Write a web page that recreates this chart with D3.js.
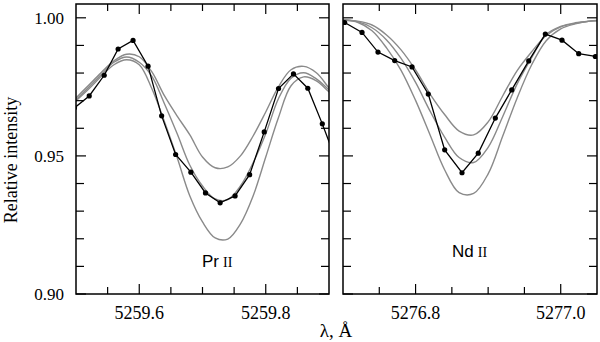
<!DOCTYPE html>
<html>
<head>
<meta charset="utf-8">
<script src="https://cdn.jsdelivr.net/npm/d3@7"></script>
<style>
  body { margin: 0; background: #fff; }
</style>
</head>
<body>
<div id="chart"></div>
<script>
/* DATA: Pr II panel */
const prObsLambda = [5259.4976, 5259.5209, 5259.5446, 5259.5666, 5259.5902, 5259.6139, 5259.6354,
  5259.6575, 5259.6816, 5259.7047, 5259.7279, 5259.7515, 5259.7745, 5259.7976, 5259.8202,
  5259.8438, 5259.8665, 5259.8894, 5259.9126];
const prObs = [0.9674, 0.9717, 0.9792, 0.9887, 0.9918, 0.9825, 0.9645, 0.9505, 0.9441, 0.9366,
  0.9330, 0.9355, 0.9432, 0.9587, 0.9744, 0.9797, 0.9745, 0.9616, 0.9475];
const prSynLambda = [5259.48, 5259.50, 5259.52, 5259.54, 5259.56, 5259.58, 5259.60, 5259.62,
  5259.64, 5259.66, 5259.68, 5259.70, 5259.72, 5259.74, 5259.76, 5259.78, 5259.80, 5259.82,
  5259.84, 5259.86, 5259.88, 5259.90, 5259.92];
const prSynLow = [0.9664, 0.9710, 0.9756, 0.9802, 0.9844, 0.9868, 0.9859, 0.9804, 0.9717, 0.9644,
  0.9576, 0.9496, 0.9457, 0.9460, 0.9500, 0.9572, 0.9659, 0.9750, 0.9812, 0.9824, 0.9801, 0.9746, 0.9692];
const prSynMid = [0.9657, 0.9703, 0.9749, 0.9795, 0.9839, 0.9858, 0.9839, 0.9788, 0.9688, 0.9580,
  0.9466, 0.9391, 0.9344, 0.9342, 0.9391, 0.9475, 0.9580, 0.9707, 0.9781, 0.9801, 0.9779, 0.9739, 0.9699];
const prSynHigh = [0.9657, 0.9699, 0.9742, 0.9788, 0.9830, 0.9848, 0.9830, 0.9743, 0.9623, 0.9493,
  0.9355, 0.9261, 0.9203, 0.9199, 0.9254, 0.9355, 0.9496, 0.9638, 0.9754, 0.9786, 0.9772, 0.9732, 0.9692];
const prTicks = [5259.55, 5259.6, 5259.65, 5259.7, 5259.75, 5259.8, 5259.85];
const prTickLabels = [5259.6, 5259.8];

/* DATA: Nd II panel */
const ndObsLambda = [5276.6790, 5276.7023, 5276.7262, 5276.7482, 5276.7712, 5276.7951, 5276.8175,
  5276.8401, 5276.8640, 5276.8864, 5276.9099, 5276.9325, 5276.9559, 5276.9788, 5277.0018,
  5277.0248, 5277.0477];
const ndObs = [1.0018, 0.9983, 0.9947, 0.9876, 0.9845, 0.9822, 0.9724, 0.9522, 0.9439, 0.9510,
  0.9637, 0.9739, 0.9844, 0.9941, 0.9919, 0.9870, 0.9860];
const ndSynLambda = [5276.68, 5276.70, 5276.72, 5276.74, 5276.76, 5276.78, 5276.80, 5276.82,
  5276.84, 5276.86, 5276.88, 5276.90, 5276.92, 5276.94, 5276.96, 5276.98, 5277.00, 5277.02,
  5277.04, 5277.06];
const ndSynLow = [0.9995, 0.9992, 0.9988, 0.9974, 0.9938, 0.9884, 0.9811, 0.9724, 0.9650, 0.9590,
  0.9576, 0.9623, 0.9717, 0.9809, 0.9877, 0.9936, 0.9967, 0.9980, 0.9988, 0.9991];
const ndSynMid = [0.9995, 0.9992, 0.9986, 0.9964, 0.9920, 0.9853, 0.9766, 0.9662, 0.9568, 0.9494,
  0.9476, 0.9531, 0.9642, 0.9761, 0.9856, 0.9940, 0.9969, 0.9982, 0.9988, 0.9991];
const ndSynHigh = [0.9995, 0.9992, 0.9984, 0.9953, 0.9891, 0.9810, 0.9701, 0.9576, 0.9450, 0.9367,
  0.9364, 0.9435, 0.9571, 0.9710, 0.9830, 0.9917, 0.9960, 0.9978, 0.9988, 0.9991];
const ndTicks = [5276.75, 5276.8, 5276.85, 5276.9, 5276.95, 5277.0];
const ndTickLabels = [5276.8, 5277.0];

/* shared y ticks */
const yMajor = [0.90, 0.95, 1.00];
const yMinor = [0.91, 0.92, 0.93, 0.94, 0.96, 0.97, 0.98, 0.99];

/* LAYOUT */
const width = 600, height = 342;
const plotTop = 4, plotBottom = 294;

const svg = d3.select("#chart")
  .append("svg")
    .attr("width", width)
    .attr("height", height)
    .style("font-family", "'Liberation Serif', 'Times New Roman', serif");

const y = d3.scaleLinear().domain([0.90, 1.005]).range([plotBottom, plotTop]);

function drawPanel(p, id) {
  const x = d3.scaleLinear().domain(p.domain).range([p.left, p.right]);
  const g = svg.append("g");

  g.append("clipPath").attr("id", id)
    .append("rect")
      .attr("x", p.left).attr("y", plotTop)
      .attr("width", p.right - p.left).attr("height", plotBottom - plotTop);

  const plot = g.append("g").attr("clip-path", `url(#${id})`);

  // synthetic spectra (grey)
  const synLine = d3.line()
    .x(d => x(d[0])).y(d => y(d[1]))
    .curve(d3.curveCatmullRom.alpha(0.5));
  p.syn.forEach(vals => {
    plot.append("path")
      .datum(p.synLambda.map((l, i) => [l, vals[i]]))
      .attr("fill", "none")
      .attr("stroke", "#8a8a8a")
      .attr("stroke-width", 1.4)
      .attr("d", synLine);
  });

  // observed spectrum
  const obs = p.obsLambda.map((l, i) => [l, p.obs[i]]);
  plot.append("path")
    .datum(obs)
    .attr("fill", "none")
    .attr("stroke", "#000")
    .attr("stroke-width", 1.3)
    .attr("d", d3.line().x(d => x(d[0])).y(d => y(d[1])));
  plot.selectAll("circle")
    .data(obs)
    .join("circle")
      .attr("cx", d => x(d[0]))
      .attr("cy", d => y(d[1]))
      .attr("r", 2.6)
      .attr("fill", "#000");

  // ticks, pointing inward on every side
  const tk = g.append("g").attr("stroke", "#000").attr("stroke-width", 1.2);
  p.ticks.forEach(t => {
    const len = p.tickLabels.includes(t) ? 10 : 7;
    tk.append("line").attr("x1", x(t)).attr("x2", x(t)).attr("y1", plotBottom).attr("y2", plotBottom - len);
    tk.append("line").attr("x1", x(t)).attr("x2", x(t)).attr("y1", plotTop).attr("y2", plotTop + len);
  });
  yMajor.concat(yMinor).forEach(v => {
    const len = yMajor.includes(v) ? 10 : 8;
    tk.append("line").attr("x1", p.left).attr("x2", p.left + len).attr("y1", y(v)).attr("y2", y(v));
    tk.append("line").attr("x1", p.right).attr("x2", p.right - len).attr("y1", y(v)).attr("y2", y(v));
  });

  // frame
  g.append("rect")
    .attr("x", p.left).attr("y", plotTop)
    .attr("width", p.right - p.left).attr("height", plotBottom - plotTop)
    .attr("fill", "none").attr("stroke", "#000").attr("stroke-width", 1.5);

  // x tick labels
  g.selectAll("text.xl")
    .data(p.tickLabels)
    .join("text")
      .attr("class", "xl")
      .attr("x", d => x(d))
      .attr("y", 319)
      .attr("text-anchor", "middle")
      .style("font-size", "18px")
      .text(d => d.toFixed(1));

  // element label
  const lab = g.append("text")
    .attr("x", p.labelX).attr("y", p.labelY)
    .style("font-size", "17px");
  lab.append("tspan").style("font-family", "'Liberation Sans', Arial, sans-serif").text(p.element);
  lab.append("tspan").attr("dx", 4).style("font-size", "14px").text("II");

  return x;
}

drawPanel({
  left: 76, right: 329, domain: [5259.5, 5259.9],
  obsLambda: prObsLambda, obs: prObs,
  synLambda: prSynLambda, syn: [prSynLow, prSynMid, prSynHigh],
  ticks: prTicks, tickLabels: prTickLabels,
  element: "Pr", labelX: 202, labelY: 267
}, "clipPr");

drawPanel({
  left: 343, right: 597, domain: [5276.7, 5277.05],
  obsLambda: ndObsLambda, obs: ndObs,
  synLambda: ndSynLambda, syn: [ndSynLow, ndSynMid, ndSynHigh],
  ticks: ndTicks, tickLabels: ndTickLabels,
  element: "Nd", labelX: 452, labelY: 257
}, "clipNd");

// y tick labels (left panel only)
svg.selectAll("text.yl")
  .data(yMajor)
  .join("text")
    .attr("class", "yl")
    .attr("x", 64)
    .attr("y", d => y(d))
    .attr("dy", "0.35em")
    .attr("text-anchor", "end")
    .style("font-size", "17px")
    .text(d => d.toFixed(2));

// axis titles
svg.append("text")
  .attr("transform", "translate(17,160)rotate(-90)")
  .attr("text-anchor", "middle")
  .style("font-size", "18px")
  .text("Relative intensity");

svg.append("text")
  .attr("x", 336)
  .attr("y", 337)
  .attr("text-anchor", "middle")
  .style("font-size", "19px")
  .text("λ, Å");
</script>
</body>
</html>
